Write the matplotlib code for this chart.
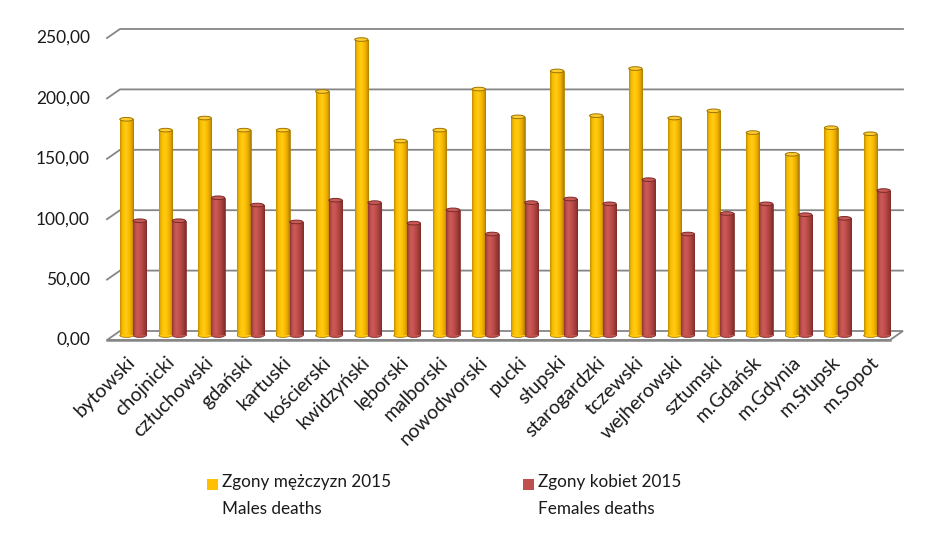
import numpy as np
import matplotlib
matplotlib.use("Agg")
import matplotlib.pyplot as plt
from matplotlib.colors import LinearSegmentedColormap
from matplotlib.patches import Ellipse, Rectangle, Polygon

# ---------- DATA ----------
districts = ["bytowski", "chojnicki", "człuchowski", "gdański", "kartuski",
             "kościerski", "kwidzyński", "lęborski", "malborski", "nowodworski",
             "pucki", "słupski", "starogardzki", "tczewski", "wejherowski",
             "sztumski", "m.Gdańsk", "m.Gdynia", "m.Słupsk", "m.Sopot"]
males = [179, 170, 180, 170, 170,
         202, 245, 161, 170, 204,
         181, 219, 182, 221, 180,
         186, 168, 150, 172, 167]
females = [95, 95, 114, 108, 94,
           112, 110, 93, 104, 84,
           110, 113, 109, 129, 84,
           101, 109, 100, 97, 120]
yticks = [0, 50, 100, 150, 200, 250]
male_label = "Zgony mężczyzn 2015\nMales deaths"
female_label = "Zgony kobiet 2015\nFemales deaths"
# --------------------------

plt.rcParams['font.family'] = ['Lato', 'DejaVu Sans']

W, H = 945, 544
fig = plt.figure(figsize=(W / 100, H / 100), dpi=100)
n = len(districts)

# axes = middle plane of the 3D box (where the bars stand)
x_left, x_right = 113.5, 896.5
y_zero, y_top = 335.5, 33.5
ax = fig.add_axes([x_left / W, 1 - y_zero / H,
                   (x_right - x_left) / W, (y_zero - y_top) / H])
ax.set_xlim(-0.5, n - 0.5)
ax.set_ylim(0, 250)
ax.axis('off')

# depth offset of back / front plane in data units
px_x = n / (x_right - x_left)
px_y = 250 / (y_zero - y_top)
dx, dy = 6.5 * px_x, 4.5 * px_y

grid_c = '#868686'
# back-wall gridlines with left-wall stubs
for v in yticks[1:]:
    ax.plot([-0.5 - dx, -0.5 + dx, n - 0.5 + dx], [v - dy, v + dy, v + dy],
            color=grid_c, lw=1.3, clip_on=False, zorder=1)
# floor
floor = Polygon([(-0.5 - dx, -dy), (-0.5 + dx, dy), (n - 0.5 + dx, dy), (n - 0.5 - dx, -dy)],
                closed=True, facecolor='white', edgecolor=grid_c, lw=1.3,
                clip_on=False, zorder=1)
ax.add_patch(floor)
ax.plot([-0.5 - dx, n - 0.5 - dx], [-dy, -dy], color=grid_c, lw=1.8,
        clip_on=False, zorder=1)

# y tick labels on the front plane
for v in yticks:
    ax.text(-0.5 - dx - 17 * px_x, v - dy, f"{v:.2f}".replace('.', ','),
            ha='right', va='center', fontsize=12.5, color='#1a1a1a', clip_on=False)

# bars
bw = 0.34
x = np.arange(n)
cm_m = LinearSegmentedColormap.from_list('m', ['#B88A00', '#F5BA00', '#FFC400', '#FFCC20',
                                               '#FFC200', '#F5B400', '#DDA000', '#A67C00'])
cm_f = LinearSegmentedColormap.from_list('f', ['#8E3432', '#C0504D', '#CC5C58', '#C4524F',
                                               '#B24643', '#9E3C3A', '#7E2C2A'])
grad = np.linspace(0, 1, 64).reshape(1, -1)


def cylinders(xpos, vals, cmap, top_c, edge_c):
    bars = ax.bar(xpos, vals, width=bw, align='edge', color=cmap(0.5),
                  edgecolor=edge_c, lw=0.5, zorder=3)
    for b, v in zip(bars, vals):
        x0 = b.get_x()
        # rounded bottom
        ax.add_patch(Ellipse((x0 + bw / 2, 0), bw, 3.2, facecolor=cmap(0.55),
                             edgecolor=edge_c, lw=0.5, zorder=2.9, clip_on=False))
        im = ax.imshow(grad, cmap=cmap, extent=(x0, x0 + bw, 0, v),
                       aspect='auto', zorder=3.1, interpolation='bicubic')
        im.set_clip_path(b)
        ax.add_patch(Ellipse((x0 + bw / 2, v), bw, 3.0, facecolor=top_c,
                             edgecolor=edge_c, lw=0.7, zorder=3.2))


cylinders(x - bw, males, cm_m, '#FFCC33', '#9C7400')
cylinders(x, females, cm_f, '#C85A56', '#7A2A28')
ax.set_xlim(-0.5, n - 0.5)
ax.set_ylim(0, 250)

# category labels
for xi, name in zip(x, districts):
    ax.text(xi - 0.02, -24 * px_y, name, rotation=45, rotation_mode='anchor',
            ha='right', va='center', fontsize=14, color='#1a1a1a', clip_on=False)

# legend
for (lx, col, lab) in [(207, '#FFC000', male_label), (523, '#C0504D', female_label)]:
    fig.add_artist(Rectangle((lx / W, 1 - 490 / H), 11 / W, 11 / H,
                             transform=fig.transFigure, facecolor=col, edgecolor='none'))
    fig.text((lx + 15) / W, 1 - 474 / H, lab, ha='left', va='top',
             fontsize=12.3, color='#1a1a1a', linespacing=1.85)

fig.savefig('out.png', dpi=100, facecolor='white')
